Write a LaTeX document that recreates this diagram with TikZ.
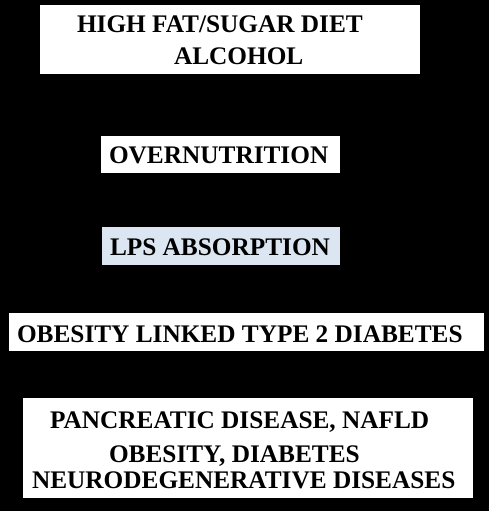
\documentclass[tikz,border=0pt]{standalone}
\usepackage{fontspec}
\setmainfont{Liberation Serif}
\begin{document}
\begin{tikzpicture}[x=1pt,y=-1pt,
  panel/.style={fill=white,draw=none,inner sep=0,outer sep=0},
  lbl/.style={anchor=base west,inner sep=0,outer sep=0,font=\fontsize{25.3}{30}\selectfont\bfseries,text=black}]
\useasboundingbox (0,0) rectangle (489,511);
\fill[black] (0,0) rectangle (489,511);
\node[panel,minimum width=380pt,minimum height=69pt] (b1) at (230,39.5) {};
\node[panel,minimum width=239pt,minimum height=37pt] (b2) at (220.5,154.5) {};
\node[panel,fill={rgb,255:red,220;green,230;blue,242},minimum width=238pt,minimum height=38pt] (b3) at (221,246) {};
\node[panel,minimum width=475pt,minimum height=38pt] (b4) at (246.5,332) {};
\node[panel,minimum width=450pt,minimum height=100pt] (b5) at (248,448) {};
\node[lbl] (t1a) at (77,33) {HIGH FAT/SUGAR DIET};
\node[lbl] (t1b) at (174,64) {ALCOHOL};
\node[lbl] (t2) at (109,163) {OVERNUTRITION};
\node[lbl] (t3) at (110,255) {LPS ABSORPTION};
\node[lbl] (t4) at (17,342) {OBESITY LINKED TYPE 2 DIABETES};
\node[lbl] (t5a) at (50,428) {PANCREATIC DISEASE, NAFLD};
\node[lbl] (t5b) at (109,462) {OBESITY, DIABETES};
\node[lbl] (t5c) at (32,488) {NEURODEGENERATIVE DISEASES};
\end{tikzpicture}
\end{document}
